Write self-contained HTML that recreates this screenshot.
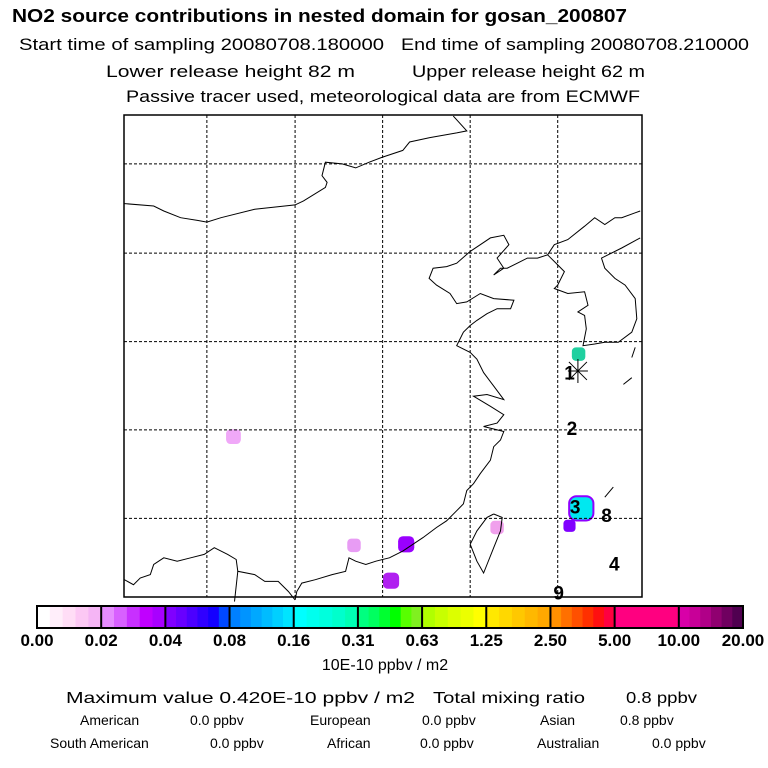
<!DOCTYPE html>
<html><head><meta charset="utf-8"><style>
html,body{margin:0;padding:0;background:#fff;}
svg{display:block;font-family:"Liberation Sans",sans-serif;}
</style></head><body>
<svg id="chart" width="768" height="768" viewBox="0 0 768 768" xml:space="preserve">
<g fill="#000">
<text x="12" y="22" font-size="18" font-weight="bold" textLength="615" lengthAdjust="spacingAndGlyphs">NO2 source contributions in nested domain for gosan_200807</text>
<text x="19" y="50" font-size="17" textLength="365" lengthAdjust="spacingAndGlyphs">Start time of sampling 20080708.180000</text>
<text x="401" y="50" font-size="17" textLength="348" lengthAdjust="spacingAndGlyphs">End time of sampling 20080708.210000</text>
<text x="106" y="77" font-size="17" textLength="249" lengthAdjust="spacingAndGlyphs">Lower release height   82 m</text>
<text x="412" y="77" font-size="17" textLength="233" lengthAdjust="spacingAndGlyphs">Upper release height   62 m</text>
<text x="126" y="102" font-size="17" textLength="514" lengthAdjust="spacingAndGlyphs">Passive tracer used, meteorological data are from ECMWF</text>
</g>
<g id="map"></g>
<g id="cbar"></g>
<g fill="#000">
<text x="385" y="670" font-size="16" text-anchor="middle">10E-10 ppbv / m2</text>
<text x="66" y="703" font-size="16" textLength="349" lengthAdjust="spacingAndGlyphs">Maximum value  0.420E-10 ppbv / m2</text>
<text x="433" y="703" font-size="16" textLength="152" lengthAdjust="spacingAndGlyphs">Total mixing ratio</text>
<text x="626" y="703" font-size="16" textLength="71" lengthAdjust="spacingAndGlyphs">0.8 ppbv</text>
<g font-size="14">
<text x="80" y="725">American</text>
<text x="190" y="725">0.0 ppbv</text>
<text x="310" y="725">European</text>
<text x="422" y="725">0.0 ppbv</text>
<text x="540" y="725">Asian</text>
<text x="620" y="725">0.8 ppbv</text>
<text x="50" y="748">South American</text>
<text x="210" y="748">0.0 ppbv</text>
<text x="327" y="748">African</text>
<text x="420" y="748">0.0 ppbv</text>
<text x="537" y="748">Australian</text>
<text x="652" y="748">0.0 ppbv</text>
</g>
</g>
</svg>
<script>
const NS="http://www.w3.org/2000/svg";
// colorbar data
const levelLabels=["0.00","0.02","0.04","0.08","0.16","0.31","0.63","1.25","2.50","5.00","10.00","20.00"];
const segColors=[
["#ffffff","#ffeefa","#ffddf6","#fcc8f4","#f5b5f5"],
["#e68cff","#d860ff","#c830ff","#c000ff","#a800ff"],
["#8000ff","#6800ff","#4c00ff","#3000ff","#1400ff","#0048ff"],
["#0080ff","#0094ff","#00a8ff","#00bcff","#00d0ff","#00e4ff"],
["#00ffff","#00ffee","#00ffdd","#00ffcc","#00ffb4"],
["#00ff80","#00ff60","#00ff30","#00ff00","#58ff00","#80f020"],
["#b0ff00","#c8ff00","#dcff00","#ecff00","#ffff00"],
["#ffe800","#ffd800","#ffc800","#ffb800","#ffa800"],
["#ff9000","#ff7000","#ff5000","#ff3000","#ff1010","#ff0040"],
["#ff0080","#ff0080","#ff0080","#ff0080","#ff0080"],
["#d800a8","#c80098","#b00088","#900070","#700060","#500050"]
];
// map data (grid coordinates in map units 0..1550 x 0..1460)
const gridX=[258,520,780,1040,1300];
const gridY=[160,425,688,950,1213];
const blobX=[337,695,850,805,1120,1370,1335,1362];
const blobY=[970,1293,1290,1398,1240,1183,1235,725];
const blobR=[22,20,24,24,20,36,18,20];
const blobC=["#f0a8f8","#e89cf4","#9a00ff","#b020f0","#f0a0ec","#00e8f0","#8000ff","#20d0a0"];
const markNums=["1","2","3","8","4","9"];
const markX=[1335,1342,1352,1445,1468,1303];
const markY=[795,960,1192,1218,1362,1448];

const cb=document.getElementById('cbar');
const cbX0=37,cbX1=743,cbY=606,cbH=22;
const segW=(cbX1-cbX0)/segColors.length;
function cbx(i){return cbX0+i*segW;}
segColors.forEach((cols,i)=>{
  const w=segW/cols.length;
  cols.forEach((c,j)=>{
    const r=document.createElementNS(NS,'rect');
    r.setAttribute('x',cbx(i)+j*w);r.setAttribute('y',cbY);r.setAttribute('width',w+0.5);r.setAttribute('height',cbH);r.setAttribute('fill',c);
    
    
    cb.appendChild(r);
  });
});
for(let i=0;i<=segColors.length;i++){
  const l=document.createElementNS(NS,'line');
  l.setAttribute('x1',cbx(i));l.setAttribute('x2',cbx(i));l.setAttribute('y1',cbY);l.setAttribute('y2',cbY+cbH);l.setAttribute('stroke','#000');l.setAttribute('stroke-width','2');
  
  
  cb.appendChild(l);
}
const fr=document.createElementNS(NS,'rect');
fr.setAttribute('x',cbX0);fr.setAttribute('y',cbY);fr.setAttribute('width',cbX1-cbX0);fr.setAttribute('height',cbH);fr.setAttribute('fill','none');fr.setAttribute('stroke','#000');fr.setAttribute('stroke-width','2');


cb.appendChild(fr);
levelLabels.forEach((t,i)=>{
  const tx=document.createElementNS(NS,'text');
  tx.setAttribute('x',cbx(i));tx.setAttribute('y',646);tx.setAttribute('font-size','17');tx.setAttribute('font-weight','bold');tx.setAttribute('text-anchor','middle');
  tx.textContent=t;
  
  
  cb.appendChild(tx);
});

// map
const map=document.getElementById('map');
const S=1/2.97, OX=120, OY=110;
function mx(v){return OX+v*S;}
function my(v){return OY+v*S;}
const frame=document.createElementNS(NS,'rect');
frame.setAttribute('x',124);frame.setAttribute('y',115);frame.setAttribute('width',518);frame.setAttribute('height',482);frame.setAttribute('fill','#fff');frame.setAttribute('stroke','#000');frame.setAttribute('stroke-width','1.5');


map.appendChild(frame);

blobX.forEach((v,i)=>{
  const g=document.createElementNS(NS,'rect');
  const r=blobR[i]*S;
  g.setAttribute('x',mx(v)-r);g.setAttribute('y',my(blobY[i])-r);g.setAttribute('width',2*r);g.setAttribute('height',2*r);g.setAttribute('rx',r*0.6);g.setAttribute('fill',blobC[i]);
  if(i===5){g.setAttribute('stroke','#9000ff');g.setAttribute('stroke-width','2');}
  
  
  map.appendChild(g);
});

const coasts=[
"13,278 100,285 130,300 180,320 230,328 258,333 300,320 400,295 520,282 545,270 610,230 615,215 600,195 610,155 660,160 700,172 740,155 780,140 840,120 860,95 920,82 1000,68 1030,62 990,18",
"1545,300 1490,320 1470,320 1440,340 1410,320 1380,345 1330,385 1290,400 1270,430 1240,440 1210,440 1180,455 1150,470 1130,470 1110,490 1140,470 1120,440 1155,400 1140,372 1100,380 1070,400 1040,420 1000,455 970,465 930,470 918,500 940,520 980,545 1000,575 1030,570 1070,545 1110,560 1170,565 1160,590 1120,590 1090,605 1060,625 1040,640 1020,660 1000,700 1040,720 1060,740 1080,780 1110,820 1140,860 1090,845 1050,850 1100,880 1140,905 1120,930 1080,940 1140,955 1130,980 1110,1000 1100,1040 1070,1080 1050,1110 1030,1130 1020,1170 1000,1190 970,1220 940,1240 900,1270 870,1290 840,1310 800,1330 760,1340 730,1350 700,1340 680,1330 670,1370 630,1380 580,1395 540,1405 525,1430 520,1455",
"520,1455 500,1430 470,1400 430,1400 400,1380 350,1370 345,1335 320,1320 280,1300 250,1320 210,1330 170,1340 130,1330 100,1350 90,1380 60,1390 40,1410 13,1395",
"350,1370 340,1460",
"1270,430 1300,460 1320,480 1300,520 1290,530 1330,545 1380,540 1390,580 1360,600 1380,610 1385,650 1375,700 1410,695 1440,690 1480,690 1520,660 1535,620 1530,560 1500,520 1470,500 1440,470 1430,440 1490,410 1545,380",
"1110,1200 1135,1210 1130,1250 1110,1300 1090,1350 1080,1375 1060,1340 1040,1290 1060,1250 1090,1210 1110,1200",
"1440,1150 1465,1120",
"1520,735 1530,705",
"1495,815 1520,795"
];
coasts.forEach(p=>{
  const pl=document.createElementNS(NS,'polyline');
  pl.setAttribute('points',p.split(' ').map(q=>{const [a,b]=q.split(',').map(Number);return mx(a).toFixed(1)+','+my(b).toFixed(1);}).join(' '));
  pl.setAttribute('fill','none');pl.setAttribute('stroke','#000');pl.setAttribute('stroke-width','1');
  
  
  map.appendChild(pl);
});
gridX.forEach(v=>{
  const l=document.createElementNS(NS,'line');
  l.setAttribute('x1',mx(v));l.setAttribute('x2',mx(v));l.setAttribute('y1',115);l.setAttribute('y2',597);l.setAttribute('stroke','#000');l.setAttribute('stroke-dasharray','3,2');
  
  
  map.appendChild(l);
});
gridY.forEach(v=>{
  const l=document.createElementNS(NS,'line');
  l.setAttribute('y1',my(v));l.setAttribute('y2',my(v));l.setAttribute('x1',124);l.setAttribute('x2',642);l.setAttribute('stroke','#000');l.setAttribute('stroke-dasharray','3,2');
  
  
  map.appendChild(l);
});
// receptor star
const st=document.createElementNS(NS,'path');
const sx=mx(1360),sy=my(775);
st.setAttribute('d',`M${sx-10},${sy}H${sx+10}M${sx},${sy-12}V${sy+12}M${sx-9},${sy-9}L${sx+9},${sy+9}M${sx+9},${sy-9}L${sx-9},${sy+9}`);
st.setAttribute('stroke','#000');st.setAttribute('stroke-width','1');


map.appendChild(st);
markNums.forEach((t,i)=>{
  const tx=document.createElementNS(NS,'text');
  tx.setAttribute('x',mx(markX[i]));tx.setAttribute('y',my(markY[i])+2);tx.setAttribute('font-size','19');tx.setAttribute('font-weight','bold');tx.setAttribute('text-anchor','middle');
  tx.textContent=t;
  
  
  map.appendChild(tx);
});
</script>
</body></html>
